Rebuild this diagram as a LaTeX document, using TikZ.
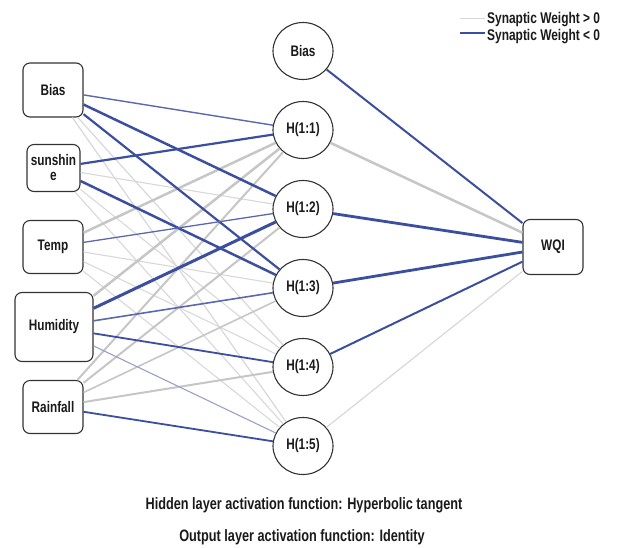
\documentclass[tikz,border=0pt]{standalone}
\usepackage{fontspec}
\setmainfont{Liberation Sans}[FakeStretch=0.77]
\usetikzlibrary{shapes.geometric}
\definecolor{nblue}{HTML}{3C4F9F}
\definecolor{lblue}{HTML}{5A68AE}
\definecolor{pblue}{HTML}{9AA0C6}
\definecolor{pgray}{HTML}{C6C6C6}
\definecolor{lgray}{HTML}{D8D8D8}
\definecolor{txt}{HTML}{1A1A1A}
\definecolor{brd}{HTML}{333333}
\tikzset{
  inbox/.style={draw=brd, line width=1.1pt, rounded corners=7pt, fill=white, inner sep=0pt,
    font=\bfseries\fontsize{15.3}{15}\selectfont, text=txt, align=center},
  hid/.style={ellipse, draw=brd, line width=1.1pt, fill=white, inner sep=0pt,
    minimum width=60pt, minimum height=57pt, font=\bfseries\fontsize{15.3}{17}\selectfont, text=txt},
  neg/.style={draw=nblue, line width=#1},
  lneg/.style={draw=lblue, line width=#1},
  pneg/.style={draw=pblue, line width=#1},
  pos/.style={draw=pgray, line width=#1},
  lpos/.style={draw=lgray, line width=#1},
  caption/.style={font=\bfseries\fontsize{16.5}{18}\selectfont, text=txt, inner sep=0pt},
  legtext/.style={font=\bfseries\fontsize{15.5}{16}\selectfont, text=txt, inner sep=0pt, anchor=west},
}
\begin{document}
\begin{tikzpicture}[x=1pt, y=-1pt]
\useasboundingbox (0,0) rectangle (621,547);
% input layer
\node[inbox, minimum width=60pt, minimum height=54pt] (iB) at (53,90) {Bias};
\node[inbox, minimum width=53pt, minimum height=47pt] (iS) at (53.5,168) {sunshin\\e};
\node[inbox, minimum width=60pt, minimum height=53pt] (iT) at (53,247) {Temp};
\node[inbox, minimum width=78pt, minimum height=69pt] (iH) at (54,327) {Humidity};
\node[inbox, minimum width=60pt, minimum height=53pt] (iR) at (53,407) {Rainfall};
% hidden layer
\node[hid] (hB) at (303,51) {Bias};
\node[hid] (h1) at (303,130) {H(1:1)};
\node[hid] (h2) at (303,209) {H(1:2)};
\node[hid] (h3) at (303,288) {H(1:3)};
\node[hid] (h4) at (303,367) {H(1:4)};
\node[hid] (h5) at (303,446) {H(1:5)};
% output
\node[inbox, minimum width=60pt, minimum height=55pt] (out) at (553,247) {WQI};
% input -> hidden
\draw[lpos=1.1] (iT) -- (h3);
\draw[lpos=1.1] (iT) -- (h4);
\draw[lpos=1.1] (iT) -- (h5);
\draw[lpos=1.1] (iS) -- (h2);
\draw[lpos=1.1] (iS) -- (h4);
\draw[lpos=1.1] (iS) -- (h5);
\draw[lpos=1.2] (iB) -- (h4);
\draw[lpos=1.2] (iB) -- (h5);
\draw[pos=2.5] (iT) -- (h1);
\draw[pos=2.5] (iH) -- (h1);
\draw[pos=2] (iR) -- (h1);
\draw[pos=2] (iR) -- (h2);
\draw[pos=1.6] (iR) -- (h3);
\draw[pos=2] (iR) -- (h4);
\draw[lneg=1.4] (iB) -- (h1);
\draw[neg=2.5] (iB) -- (h2);
\draw[neg=2.2] (iB) -- (h3);
\draw[neg=2.2] (iS) -- (h1);
\draw[neg=2.5] (iS) -- (h3);
\draw[lneg=1.3] (iT) -- (h2);
\draw[neg=3] (iH) -- (h2);
\draw[lneg=1.6] (iH) -- (h3);
\draw[neg=1.8] (iH) -- (h4);
\draw[pneg=1.1] (iH) -- (h5);
\draw[neg=1.8] (iR) -- (h5);
% hidden -> output
\draw[neg=2] (hB) -- (out);
\draw[pos=2.5] (h1) -- (out);
\draw[neg=2.8] (h2) -- (out);
\draw[neg=2.8] (h3) -- (out);
\draw[neg=2] (h4) -- (out);
\draw[lpos=1.2] (h5) -- (out);
% legend
\coordinate (lg1a) at (460,18.5); \coordinate (lg1b) at (485,18.5);
\coordinate (lg2a) at (460,33); \coordinate (lg2b) at (485,33);
\draw[lpos=1.2] (lg1a) -- (lg1b);
\draw[neg=1.4] (lg2a) -- (lg2b);
\node[legtext] (lt1) at (487,19.5) {Synaptic Weight > 0};
\node[legtext] (lt2) at (487,36.5) {Synaptic Weight < 0};
% captions
\node[caption] (c1) at (304,505) {Hidden layer activation function: Hyperbolic tangent};
\node[caption] (c2) at (302,537) {Output layer activation function: Identity};
\end{tikzpicture}
\end{document}
